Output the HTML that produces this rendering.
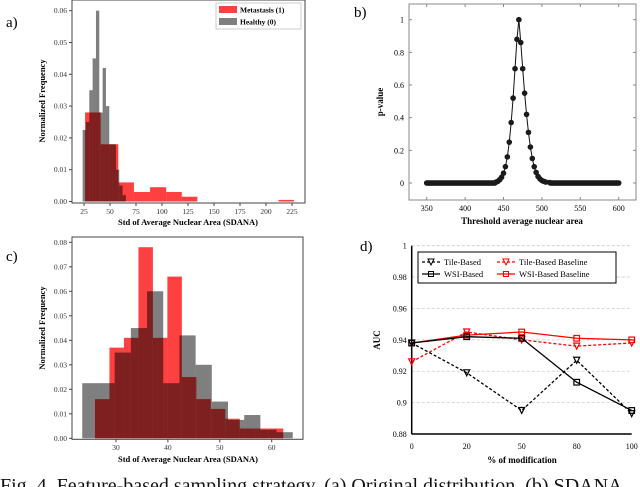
<!DOCTYPE html>
<html><head><meta charset="utf-8"><style>
body{margin:0;width:640px;height:487px;overflow:hidden;background:#fff;font-family:"Liberation Serif",serif;position:relative}
svg{position:absolute;left:0;top:0}
text{font-family:"Liberation Serif",serif}
.capwrap{position:absolute;left:0;top:474px;width:640px;height:13px;overflow:hidden}
.cap{font-size:20px;line-height:24px;white-space:nowrap;color:#111}
</style></head><body>
<svg id="s" width="640" height="487"></svg>
<div class="capwrap"><div class="cap">Fig. 4. Feature-based sampling strategy. (a) Original distribution, (b) SDANA</div></div>
<script>
// Panel a data
const aRedEdges=[26,41,58,73,88.5,104,119,134,212,227];
const aRedVals=[0.028,0.018,0.006,0.003,0.0045,0.003,0.0015,0,0.0005];
const aGrayStart=23.7, aGrayW=3.2;
const aGrayVals=[0.0225,0.025,0.035,0.045,0.06,0.028,0.042,0.030,0.018,0.018,0.010,0.005,0.002];
const aXTicks=[25,50,75,100,125,150,175,200,225];
const aYTicks=[0,0.01,0.02,0.03,0.04,0.05,0.06];
// Panel c data
const cRedStart=25.95, cRedW=2.79;
const cRedVals=[0.016,0.037,0.041,0.078,0.041,0.066,0.025,0.016,0.012,0.008,0.004,0.004,0.004];
const cGrayStart=23.5, cGrayW=3.12;
const cGrayVals=[0.0225,0.0225,0.035,0.045,0.060,0.0225,0.042,0.030,0.015,0.0075,0.0095,0.0035,0.0025];
const cXTicks=[30,40,50,60];
const cYTicks=[0,0.01,0.02,0.03,0.04,0.05,0.06,0.07,0.08];
// Panel b data
const bPeakX=[440,442.5,445,447.5,450,452.5,455,457.5,460,462.5,465,467.5,470,472.5,475,477.5,480,482.5,485,487.5,490,492.5,495,497.5,500,502.5,505,510];
const bPeakY=[0.005,0.01,0.02,0.035,0.06,0.1,0.16,0.25,0.37,0.52,0.7,0.88,1.0,0.86,0.7,0.55,0.42,0.31,0.22,0.15,0.1,0.065,0.04,0.025,0.015,0.01,0.006,0.003];
const bXTicks=[350,400,450,500,550,600];
const bYTicks=[0,0.2,0.4,0.6,0.8,1];
// Panel d data
const dCats=['0','20','50','80','100'];
const dTile=[0.938,0.919,0.895,0.927,0.893];
const dTileBase=[0.926,0.945,0.940,0.936,0.938];
const dWsi=[0.938,0.942,0.941,0.913,0.895];
const dWsiBase=[0.938,0.943,0.945,0.941,0.940];
const dYTicks=[0.88,0.9,0.92,0.94,0.96,0.98,1];

const S=document.getElementById('s');const NS='http://www.w3.org/2000/svg';
function el(t,a,p){const e=document.createElementNS(NS,t);for(const k in a)e.setAttribute(k,a[k]);(p||S).appendChild(e);return e;}
function txt(x,y,s,a){const e=el('text',Object.assign({x:x,y:y},a||{}));e.textContent=s;return e;}

// ---------- Panel a
{const L=72,R=305,T=0,B=201.5;
const X=v=>84+(v-25)*26/25, Y=v=>B-v*3180;
const g=el('g',{});
aRedVals.forEach((v,i)=>{if(v<=0)return;const r=el('rect',{x:X(aRedEdges[i]),y:Y(v),width:X(aRedEdges[i+1])-X(aRedEdges[i]),height:B-Y(v),fill:'rgba(255,0,0,0.75)'},g);
});
aGrayVals.forEach((v,i)=>{const x0=X(aGrayStart+i*aGrayW),x1=X(aGrayStart+(i+1)*aGrayW);const r=el('rect',{x:x0,y:Y(v),width:x1-x0,height:B-Y(v),fill:'rgba(0,0,0,0.5)'},g);
});
el('rect',{x:L,y:T,width:R-L,height:203-T,fill:'none',stroke:'#444','stroke-width':1},g);
aXTicks.forEach(t=>{el('line',{x1:X(t),x2:X(t),y1:203,y2:206,stroke:'#444'},g);txt(X(t),214,t,{'font-size':7.5,'text-anchor':'middle',fill:'#333'});});
aYTicks.forEach(t=>{el('line',{x1:L-3,x2:L,y1:Y(t),y2:Y(t),stroke:'#444'},g);txt(L-5,Y(t)+2.5,t.toFixed(2),{'font-size':7.5,'text-anchor':'end',fill:'#333'});});
const lg=el('g',{},g);
el('rect',{x:216,y:3,width:85,height:26,fill:'#fff',stroke:'#ccc'},lg);
el('rect',{x:219,y:6,width:18,height:7,fill:'rgba(255,0,0,0.75)'},lg);txt(240,12.5,'Metastasis (1)',{'font-size':7.5,'font-weight':'bold'});
el('rect',{x:219,y:18,width:18,height:7,fill:'rgba(0,0,0,0.5)'},lg);txt(240,24.5,'Healthy (0)',{'font-size':7.5,'font-weight':'bold'});
txt(188,225,'Std of Average Nuclear Area (SDANA)',{'font-size':8.5,'font-weight':'bold','text-anchor':'middle'});
txt(0,0,'Normalized Frequency',{'font-size':8.5,'font-weight':'bold','text-anchor':'middle',transform:'translate(45,101) rotate(-90)'});
txt(6,27,'a)',{'font-size':15});}

// ---------- Panel c
{const L=72,R=303,T=237,B=438.3;
const X=v=>116+(v-30)*5.19, Y=v=>B-v*2450;
const g=el('g',{});
cRedVals.forEach((v,i)=>{const x0=X(cRedStart+i*cRedW),x1=X(cRedStart+(i+1)*cRedW);const r=el('rect',{x:x0,y:Y(v),width:x1-x0,height:B-Y(v),fill:'rgba(255,0,0,0.75)'},g);
});
cGrayVals.forEach((v,i)=>{const x0=X(cGrayStart+i*cGrayW),x1=X(cGrayStart+(i+1)*cGrayW);const r=el('rect',{x:x0,y:Y(v),width:x1-x0,height:B-Y(v),fill:'rgba(0,0,0,0.5)'},g);
});
el('rect',{x:L,y:T,width:R-L,height:B+1-T,fill:'none',stroke:'#444'},g);
cXTicks.forEach(t=>{el('line',{x1:X(t),x2:X(t),y1:B+1,y2:B+4,stroke:'#444'},g);txt(X(t),450,t,{'font-size':7.5,'text-anchor':'middle',fill:'#333'});});
cYTicks.forEach(t=>{el('line',{x1:L-3,x2:L,y1:Y(t),y2:Y(t),stroke:'#444'},g);txt(L-5,Y(t)+2.5,t.toFixed(2),{'font-size':7.5,'text-anchor':'end',fill:'#333'});});
txt(188,462,'Std of Average Nuclear Area (SDANA)',{'font-size':8.5,'font-weight':'bold','text-anchor':'middle'});
txt(0,0,'Normalized Frequency',{'font-size':8.5,'font-weight':'bold','text-anchor':'middle',transform:'translate(45,328) rotate(-90)'});
txt(6,261,'c)',{'font-size':15});}

// ---------- Panel b
{const L=409,R=636,T=4,B=200;
const X=v=>426.7+(v-350)*192/250, Y=v=>183-v*163.3;
const g=el('g',{});
el('rect',{x:L,y:T,width:R-L,height:B-T,fill:'none',stroke:'#888'},g);
bXTicks.forEach(t=>{el('line',{x1:X(t),x2:X(t),y1:B,y2:B-3,stroke:'#888'},g);el('line',{x1:X(t),x2:X(t),y1:T,y2:T+3,stroke:'#888'},g);txt(X(t),211,t,{'font-size':8,'text-anchor':'middle'});});
bYTicks.forEach(t=>{el('line',{x1:L,x2:L+3,y1:Y(t),y2:Y(t),stroke:'#888'},g);el('line',{x1:R,x2:R-3,y1:Y(t),y2:Y(t),stroke:'#888'},g);txt(L-5,Y(t)+3,String(t),{'font-size':8,'text-anchor':'end'});});
const xs=[],ys=[];
for(let x=350;x<=600;x+=1.25){if(x>=440&&x<=510)continue;xs.push(x);ys.push(0);}
bPeakX.forEach((x,k)=>{xs.push(x);ys.push(bPeakY[k]);});
const ord=xs.map((x,i)=>i).sort((a,b)=>xs[a]-xs[b]);
el('polyline',{points:ord.map(i=>X(xs[i])+','+Y(ys[i])).join(' '),fill:'none',stroke:'#111','stroke-width':1},g);
ord.forEach(i=>{const c=el('circle',{cx:X(xs[i]),cy:Y(ys[i]),r:2.8,fill:'#1a1a1a'},g);});
txt(522,224,'Threshold average nuclear area',{'font-size':9,'font-weight':'bold','text-anchor':'middle'});
txt(0,0,'p-value',{'font-size':9,'font-weight':'bold','text-anchor':'middle',transform:'translate(383,102) rotate(-90)'});
txt(354,17,'b)',{'font-size':15});}

// ---------- Panel d
{const L=411.7,R=631.7,T=245.7,B=434;
const X=i=>L+i*(R-L)/(dCats.length-1), Y=v=>B-(v-0.88)/0.12*(B-T);
const g=el('g',{});
dYTicks.forEach(t=>{if(t>0.88)el('line',{x1:L,x2:R,y1:Y(t),y2:Y(t),stroke:'#ccc','stroke-dasharray':'3,2','stroke-width':0.8},g);
txt(L-5,Y(t)+3,String(t),{'font-size':8,'text-anchor':'end'});});
dCats.forEach((c,i)=>txt(X(i),449,c,{'font-size':8,'text-anchor':'middle'}));
el('line',{x1:L,x2:L,y1:T,y2:B,stroke:'#000','stroke-width':1.5},g);
el('line',{x1:L,x2:R,y1:B,y2:B,stroke:'#000','stroke-width':1.5},g);
function series(vals,color,dash,tri,name){const sg=el('g',{},g);
el('polyline',{points:vals.map((v,i)=>X(i)+','+Y(v)).join(' '),fill:'none',stroke:color,'stroke-width':1.3,'stroke-dasharray':dash?'3,2':'none'},sg);
vals.forEach((v,i)=>{if(tri)el('path',{d:`M${X(i)-3},${Y(v)-3}L${X(i)+3},${Y(v)-3}L${X(i)},${Y(v)+3}Z`,fill:'none',stroke:color,'stroke-width':1.2},sg);
else el('rect',{x:X(i)-2.8,y:Y(v)-2.8,width:5.6,height:5.6,fill:'none',stroke:color,'stroke-width':1.2},sg);});}
series(dTileBase,'#f00',true,true,'series-tile-based-baseline');
series(dWsiBase,'#f00',false,false,'series-wsi-based-baseline');
series(dTile,'#000',true,true,'series-tile-based');
series(dWsi,'#000',false,false,'series-wsi-based');
const lg=el('g',{},g);
el('rect',{x:418,y:252,width:198,height:31,fill:'#fff',stroke:'#000'},lg);
const ent=[[422,262,'#000',true,true,'Tile-Based'],[497,262,'#f00',true,true,'Tile-Based Baseline'],[422,274,'#000',false,false,'WSI-Based'],[497,274,'#f00',false,false,'WSI-Based Baseline']];
ent.forEach(e=>{const[x,y,c,d,t,s]=e;el('line',{x1:x,x2:x+18,y1:y,y2:y,stroke:c,'stroke-width':1.3,'stroke-dasharray':d?'3,2':'none'},lg);
if(t)el('path',{d:`M${x+6},${y-3}L${x+12},${y-3}L${x+9},${y+3}Z`,fill:'none',stroke:c},lg);else el('rect',{x:x+6.5,y:y-2.5,width:5,height:5,fill:'none',stroke:c},lg);
txt(x+22,y+3,s,{'font-size':8.5});});
txt(522,463,'% of modification',{'font-size':9,'font-weight':'bold','text-anchor':'middle'});
txt(0,0,'AUC',{'font-size':9,'font-weight':'bold','text-anchor':'middle',transform:'translate(380,340) rotate(-90)'});
txt(360,251,'d)',{'font-size':15});}
</script>
</body></html>
